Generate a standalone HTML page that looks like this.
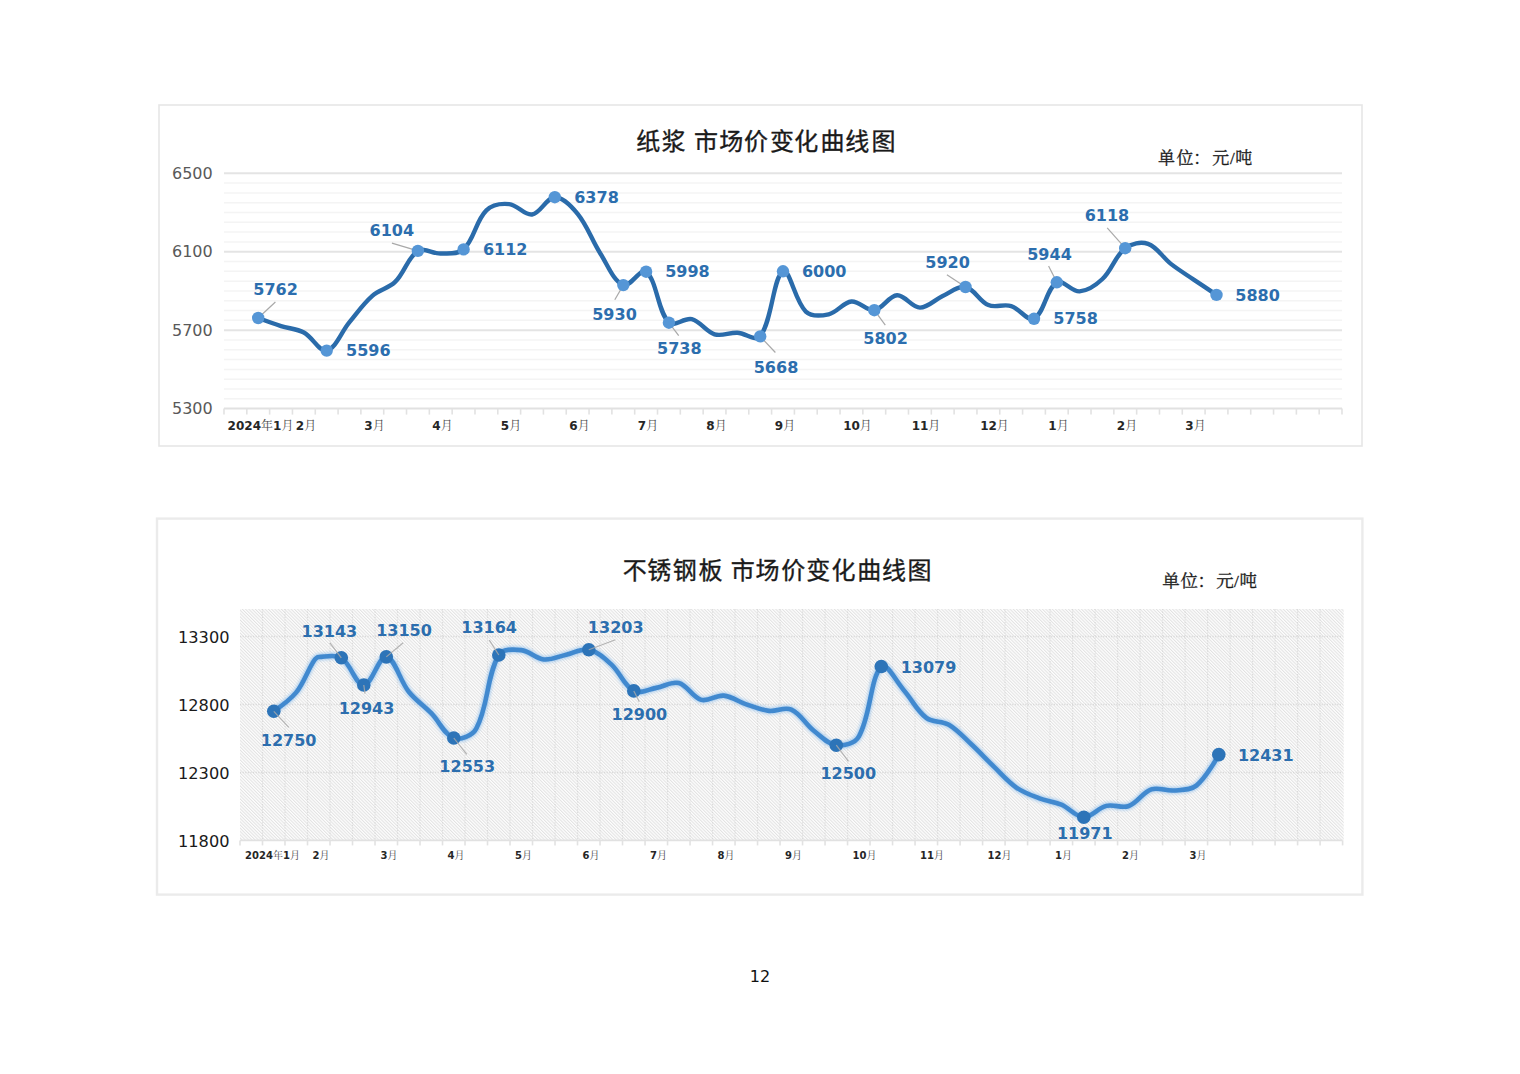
<!DOCTYPE html>
<html lang="zh-CN">
<head>
<meta charset="utf-8">
<title>市场价变化曲线图</title>
<style>
html,body{margin:0;padding:0;background:#fff;}
body{width:1520px;height:1074px;position:relative;overflow:hidden;}
svg text{white-space:pre;}
.dl{font-family:"DejaVu Sans","Liberation Sans",sans-serif;font-weight:bold;font-size:16px;fill:#2c6eae;}
.xl{font-family:"DejaVu Sans","Liberation Sans","Noto Serif CJK SC",serif;font-weight:bold;font-size:12px;fill:#262626;}
.xl2{font-family:"DejaVu Sans","Liberation Sans","Noto Serif CJK SC",serif;font-weight:bold;font-size:10px;fill:#262626;}
.cj{font-weight:normal;fill:#4a4a4a;}
.tt{font-family:"Liberation Sans","Noto Sans CJK SC",sans-serif;font-size:24px;fill:#1a1a1a;stroke:#1a1a1a;stroke-width:0.35px;}
.un{font-family:"Liberation Serif","Noto Serif CJK SC",serif;font-size:17px;fill:#1a1a1a;stroke:#1a1a1a;stroke-width:0.3px;}
</style>
</head>
<body>
<svg width="1520" height="1074" viewBox="0 0 1520 1074" style="position:absolute;left:0;top:0">
<defs>
<pattern id="hatch" width="2.3" height="2.3" patternUnits="userSpaceOnUse" patternTransform="rotate(-45)"><rect width="2.3" height="2.3" fill="#fdfdfd"/><rect width="1.0" height="2.3" fill="#e2e2e2"/></pattern>
<filter id="glow" x="-5%" y="-20%" width="110%" height="140%"><feGaussianBlur stdDeviation="1.6"/></filter>
</defs>
<rect x="159" y="105" width="1203" height="341" fill="#fff" stroke="#e6e6e6" stroke-width="1.6"/>
<line x1="224.0" y1="398.80" x2="1342.0" y2="398.80" stroke="#f4f4f4" stroke-width="1.5"/>
<line x1="224.0" y1="388.99" x2="1342.0" y2="388.99" stroke="#f4f4f4" stroke-width="1.5"/>
<line x1="224.0" y1="379.19" x2="1342.0" y2="379.19" stroke="#f4f4f4" stroke-width="1.5"/>
<line x1="224.0" y1="369.38" x2="1342.0" y2="369.38" stroke="#f4f4f4" stroke-width="1.5"/>
<line x1="224.0" y1="359.58" x2="1342.0" y2="359.58" stroke="#f4f4f4" stroke-width="1.5"/>
<line x1="224.0" y1="349.77" x2="1342.0" y2="349.77" stroke="#f4f4f4" stroke-width="1.5"/>
<line x1="224.0" y1="339.97" x2="1342.0" y2="339.97" stroke="#f4f4f4" stroke-width="1.5"/>
<line x1="224.0" y1="320.36" x2="1342.0" y2="320.36" stroke="#f4f4f4" stroke-width="1.5"/>
<line x1="224.0" y1="310.56" x2="1342.0" y2="310.56" stroke="#f4f4f4" stroke-width="1.5"/>
<line x1="224.0" y1="300.75" x2="1342.0" y2="300.75" stroke="#f4f4f4" stroke-width="1.5"/>
<line x1="224.0" y1="290.95" x2="1342.0" y2="290.95" stroke="#f4f4f4" stroke-width="1.5"/>
<line x1="224.0" y1="281.15" x2="1342.0" y2="281.15" stroke="#f4f4f4" stroke-width="1.5"/>
<line x1="224.0" y1="271.34" x2="1342.0" y2="271.34" stroke="#f4f4f4" stroke-width="1.5"/>
<line x1="224.0" y1="261.54" x2="1342.0" y2="261.54" stroke="#f4f4f4" stroke-width="1.5"/>
<line x1="224.0" y1="241.93" x2="1342.0" y2="241.93" stroke="#f4f4f4" stroke-width="1.5"/>
<line x1="224.0" y1="232.12" x2="1342.0" y2="232.12" stroke="#f4f4f4" stroke-width="1.5"/>
<line x1="224.0" y1="222.32" x2="1342.0" y2="222.32" stroke="#f4f4f4" stroke-width="1.5"/>
<line x1="224.0" y1="212.52" x2="1342.0" y2="212.52" stroke="#f4f4f4" stroke-width="1.5"/>
<line x1="224.0" y1="202.71" x2="1342.0" y2="202.71" stroke="#f4f4f4" stroke-width="1.5"/>
<line x1="224.0" y1="192.91" x2="1342.0" y2="192.91" stroke="#f4f4f4" stroke-width="1.5"/>
<line x1="224.0" y1="183.10" x2="1342.0" y2="183.10" stroke="#f4f4f4" stroke-width="1.5"/>
<line x1="224.0" y1="330.17" x2="1342.0" y2="330.17" stroke="#e4e4e4" stroke-width="2"/>
<line x1="224.0" y1="251.73" x2="1342.0" y2="251.73" stroke="#e4e4e4" stroke-width="2"/>
<line x1="224.0" y1="173.30" x2="1342.0" y2="173.30" stroke="#e4e4e4" stroke-width="2"/>
<line x1="224.0" y1="408.60" x2="1342.0" y2="408.60" stroke="#e1e1e1" stroke-width="2"/>
<line x1="224.00" y1="408.60" x2="224.00" y2="414.60" stroke="#e2e2e2" stroke-width="1.6"/>
<line x1="246.82" y1="408.60" x2="246.82" y2="414.60" stroke="#e2e2e2" stroke-width="1.6"/>
<line x1="269.63" y1="408.60" x2="269.63" y2="414.60" stroke="#e2e2e2" stroke-width="1.6"/>
<line x1="292.45" y1="408.60" x2="292.45" y2="414.60" stroke="#e2e2e2" stroke-width="1.6"/>
<line x1="315.27" y1="408.60" x2="315.27" y2="414.60" stroke="#e2e2e2" stroke-width="1.6"/>
<line x1="338.08" y1="408.60" x2="338.08" y2="414.60" stroke="#e2e2e2" stroke-width="1.6"/>
<line x1="360.90" y1="408.60" x2="360.90" y2="414.60" stroke="#e2e2e2" stroke-width="1.6"/>
<line x1="383.71" y1="408.60" x2="383.71" y2="414.60" stroke="#e2e2e2" stroke-width="1.6"/>
<line x1="406.53" y1="408.60" x2="406.53" y2="414.60" stroke="#e2e2e2" stroke-width="1.6"/>
<line x1="429.35" y1="408.60" x2="429.35" y2="414.60" stroke="#e2e2e2" stroke-width="1.6"/>
<line x1="452.16" y1="408.60" x2="452.16" y2="414.60" stroke="#e2e2e2" stroke-width="1.6"/>
<line x1="474.98" y1="408.60" x2="474.98" y2="414.60" stroke="#e2e2e2" stroke-width="1.6"/>
<line x1="497.80" y1="408.60" x2="497.80" y2="414.60" stroke="#e2e2e2" stroke-width="1.6"/>
<line x1="520.61" y1="408.60" x2="520.61" y2="414.60" stroke="#e2e2e2" stroke-width="1.6"/>
<line x1="543.43" y1="408.60" x2="543.43" y2="414.60" stroke="#e2e2e2" stroke-width="1.6"/>
<line x1="566.24" y1="408.60" x2="566.24" y2="414.60" stroke="#e2e2e2" stroke-width="1.6"/>
<line x1="589.06" y1="408.60" x2="589.06" y2="414.60" stroke="#e2e2e2" stroke-width="1.6"/>
<line x1="611.88" y1="408.60" x2="611.88" y2="414.60" stroke="#e2e2e2" stroke-width="1.6"/>
<line x1="634.69" y1="408.60" x2="634.69" y2="414.60" stroke="#e2e2e2" stroke-width="1.6"/>
<line x1="657.51" y1="408.60" x2="657.51" y2="414.60" stroke="#e2e2e2" stroke-width="1.6"/>
<line x1="680.33" y1="408.60" x2="680.33" y2="414.60" stroke="#e2e2e2" stroke-width="1.6"/>
<line x1="703.14" y1="408.60" x2="703.14" y2="414.60" stroke="#e2e2e2" stroke-width="1.6"/>
<line x1="725.96" y1="408.60" x2="725.96" y2="414.60" stroke="#e2e2e2" stroke-width="1.6"/>
<line x1="748.78" y1="408.60" x2="748.78" y2="414.60" stroke="#e2e2e2" stroke-width="1.6"/>
<line x1="771.59" y1="408.60" x2="771.59" y2="414.60" stroke="#e2e2e2" stroke-width="1.6"/>
<line x1="794.41" y1="408.60" x2="794.41" y2="414.60" stroke="#e2e2e2" stroke-width="1.6"/>
<line x1="817.22" y1="408.60" x2="817.22" y2="414.60" stroke="#e2e2e2" stroke-width="1.6"/>
<line x1="840.04" y1="408.60" x2="840.04" y2="414.60" stroke="#e2e2e2" stroke-width="1.6"/>
<line x1="862.86" y1="408.60" x2="862.86" y2="414.60" stroke="#e2e2e2" stroke-width="1.6"/>
<line x1="885.67" y1="408.60" x2="885.67" y2="414.60" stroke="#e2e2e2" stroke-width="1.6"/>
<line x1="908.49" y1="408.60" x2="908.49" y2="414.60" stroke="#e2e2e2" stroke-width="1.6"/>
<line x1="931.31" y1="408.60" x2="931.31" y2="414.60" stroke="#e2e2e2" stroke-width="1.6"/>
<line x1="954.12" y1="408.60" x2="954.12" y2="414.60" stroke="#e2e2e2" stroke-width="1.6"/>
<line x1="976.94" y1="408.60" x2="976.94" y2="414.60" stroke="#e2e2e2" stroke-width="1.6"/>
<line x1="999.76" y1="408.60" x2="999.76" y2="414.60" stroke="#e2e2e2" stroke-width="1.6"/>
<line x1="1022.57" y1="408.60" x2="1022.57" y2="414.60" stroke="#e2e2e2" stroke-width="1.6"/>
<line x1="1045.39" y1="408.60" x2="1045.39" y2="414.60" stroke="#e2e2e2" stroke-width="1.6"/>
<line x1="1068.20" y1="408.60" x2="1068.20" y2="414.60" stroke="#e2e2e2" stroke-width="1.6"/>
<line x1="1091.02" y1="408.60" x2="1091.02" y2="414.60" stroke="#e2e2e2" stroke-width="1.6"/>
<line x1="1113.84" y1="408.60" x2="1113.84" y2="414.60" stroke="#e2e2e2" stroke-width="1.6"/>
<line x1="1136.65" y1="408.60" x2="1136.65" y2="414.60" stroke="#e2e2e2" stroke-width="1.6"/>
<line x1="1159.47" y1="408.60" x2="1159.47" y2="414.60" stroke="#e2e2e2" stroke-width="1.6"/>
<line x1="1182.29" y1="408.60" x2="1182.29" y2="414.60" stroke="#e2e2e2" stroke-width="1.6"/>
<line x1="1205.10" y1="408.60" x2="1205.10" y2="414.60" stroke="#e2e2e2" stroke-width="1.6"/>
<line x1="1227.92" y1="408.60" x2="1227.92" y2="414.60" stroke="#e2e2e2" stroke-width="1.6"/>
<line x1="1250.73" y1="408.60" x2="1250.73" y2="414.60" stroke="#e2e2e2" stroke-width="1.6"/>
<line x1="1273.55" y1="408.60" x2="1273.55" y2="414.60" stroke="#e2e2e2" stroke-width="1.6"/>
<line x1="1296.37" y1="408.60" x2="1296.37" y2="414.60" stroke="#e2e2e2" stroke-width="1.6"/>
<line x1="1319.18" y1="408.60" x2="1319.18" y2="414.60" stroke="#e2e2e2" stroke-width="1.6"/>
<line x1="1342.00" y1="408.60" x2="1342.00" y2="414.60" stroke="#e2e2e2" stroke-width="1.6"/>
<text x="172" y="178.8" font-family="'DejaVu Sans','Liberation Sans',sans-serif" font-size="16" fill="#595959">6500</text>
<text x="172" y="257.2" font-family="'DejaVu Sans','Liberation Sans',sans-serif" font-size="16" fill="#595959">6100</text>
<text x="172" y="335.7" font-family="'DejaVu Sans','Liberation Sans',sans-serif" font-size="16" fill="#595959">5700</text>
<text x="172" y="414.1" font-family="'DejaVu Sans','Liberation Sans',sans-serif" font-size="16" fill="#595959">5300</text>
<text x="260.5" y="429.5" text-anchor="middle" class="xl">2024<tspan class="cj">年</tspan>1<tspan class="cj">月</tspan></text>
<text x="306.0" y="429.5" text-anchor="middle" class="xl">2<tspan class="cj">月</tspan></text>
<text x="374.5" y="429.5" text-anchor="middle" class="xl">3<tspan class="cj">月</tspan></text>
<text x="442.5" y="429.5" text-anchor="middle" class="xl">4<tspan class="cj">月</tspan></text>
<text x="511.0" y="429.5" text-anchor="middle" class="xl">5<tspan class="cj">月</tspan></text>
<text x="579.5" y="429.5" text-anchor="middle" class="xl">6<tspan class="cj">月</tspan></text>
<text x="648.0" y="429.5" text-anchor="middle" class="xl">7<tspan class="cj">月</tspan></text>
<text x="716.5" y="429.5" text-anchor="middle" class="xl">8<tspan class="cj">月</tspan></text>
<text x="785.0" y="429.5" text-anchor="middle" class="xl">9<tspan class="cj">月</tspan></text>
<text x="857.5" y="429.5" text-anchor="middle" class="xl">10<tspan class="cj">月</tspan></text>
<text x="926.0" y="429.5" text-anchor="middle" class="xl">11<tspan class="cj">月</tspan></text>
<text x="994.5" y="429.5" text-anchor="middle" class="xl">12<tspan class="cj">月</tspan></text>
<text x="1058.5" y="429.5" text-anchor="middle" class="xl">1<tspan class="cj">月</tspan></text>
<text x="1127.0" y="429.5" text-anchor="middle" class="xl">2<tspan class="cj">月</tspan></text>
<text x="1195.5" y="429.5" text-anchor="middle" class="xl">3<tspan class="cj">月</tspan></text>
<line x1="258.2" y1="318.0" x2="275.4" y2="302.0" stroke="#a9a9a9" stroke-width="1.2"/>
<line x1="417.9" y1="250.9" x2="391.9" y2="243.1" stroke="#a9a9a9" stroke-width="1.2"/>
<line x1="623.3" y1="285.1" x2="614.8" y2="299.8" stroke="#a9a9a9" stroke-width="1.2"/>
<line x1="668.9" y1="322.7" x2="678.7" y2="335.6" stroke="#a9a9a9" stroke-width="1.2"/>
<line x1="760.2" y1="336.4" x2="775.4" y2="352.5" stroke="#a9a9a9" stroke-width="1.2"/>
<line x1="874.3" y1="310.2" x2="885.3" y2="325.1" stroke="#a9a9a9" stroke-width="1.2"/>
<line x1="965.5" y1="287.0" x2="946.9" y2="274.8" stroke="#a9a9a9" stroke-width="1.2"/>
<line x1="1056.8" y1="282.3" x2="1048.6" y2="266.0" stroke="#a9a9a9" stroke-width="1.2"/>
<line x1="1125.2" y1="248.2" x2="1107.2" y2="227.9" stroke="#a9a9a9" stroke-width="1.2"/>
<path d="M258.22,318.01 C258.22,318.01 272.75,323.41 281.04,326.05 C289.17,328.63 296.48,328.56 303.86,332.52 C312.91,337.38 319.38,352.22 326.67,350.56 C335.81,348.48 341.09,332.20 349.49,322.13 C357.51,312.51 363.01,304.04 372.31,295.85 C379.44,289.57 388.39,288.56 395.12,281.93 C404.82,272.39 407.65,257.36 417.94,250.95 C424.08,247.12 432.58,253.78 440.76,253.50 C449.01,253.21 458.00,254.65 463.57,249.38 C474.43,239.12 475.60,221.06 486.39,210.36 C492.03,204.76 501.23,203.37 509.20,204.09 C517.66,204.85 524.35,215.63 532.02,214.48 C540.78,213.16 546.57,197.33 554.84,197.22 C563.00,197.12 571.39,206.14 577.65,213.89 C587.82,226.47 591.57,239.81 600.47,253.69 C608.00,265.43 613.51,281.20 623.29,285.07 C629.94,287.70 640.83,267.38 646.10,271.73 C657.25,280.93 657.30,310.63 668.92,322.72 C673.72,327.71 684.22,317.28 691.73,319.19 C700.64,321.44 705.60,331.63 714.55,334.28 C722.03,336.50 729.20,332.33 737.37,332.72 C745.63,333.11 756.06,341.99 760.18,336.44 C772.49,319.89 773.16,276.71 783.00,271.34 C789.59,267.74 794.84,301.21 805.82,311.54 C811.27,316.67 820.95,315.97 828.63,314.28 C837.37,312.37 842.95,302.31 851.45,301.54 C859.38,300.82 866.51,311.23 874.27,310.17 C882.93,308.97 888.67,295.73 897.08,295.26 C905.09,294.82 911.63,307.47 919.90,307.62 C928.05,307.76 934.33,299.83 942.71,296.05 C950.76,292.42 958.01,285.54 965.53,287.03 C974.44,288.79 979.14,301.23 988.35,305.07 C995.57,308.08 1003.50,303.74 1011.16,306.05 C1019.93,308.69 1027.77,322.02 1033.98,318.79 C1044.20,313.48 1046.33,288.62 1056.80,282.32 C1062.76,278.73 1071.63,291.93 1079.61,291.34 C1088.06,290.73 1095.80,285.26 1102.43,278.99 C1112.22,269.73 1115.02,256.07 1125.24,248.20 C1131.44,243.44 1140.94,241.44 1148.06,243.89 C1157.37,247.09 1162.29,257.17 1170.88,263.89 C1178.72,270.02 1185.45,273.98 1193.69,279.58 C1201.87,285.13 1216.51,294.87 1216.51,294.87" fill="none" stroke="#2a6baa" stroke-width="4.4" stroke-linecap="round" stroke-linejoin="round"/>
<circle cx="258.2" cy="318.0" r="6.2" fill="#5596d6"/>
<circle cx="326.7" cy="350.6" r="6.2" fill="#5596d6"/>
<circle cx="417.9" cy="250.9" r="6.2" fill="#5596d6"/>
<circle cx="463.6" cy="249.4" r="6.2" fill="#5596d6"/>
<circle cx="554.8" cy="197.2" r="6.2" fill="#5596d6"/>
<circle cx="646.1" cy="271.7" r="6.2" fill="#5596d6"/>
<circle cx="623.3" cy="285.1" r="6.2" fill="#5596d6"/>
<circle cx="668.9" cy="322.7" r="6.2" fill="#5596d6"/>
<circle cx="760.2" cy="336.4" r="6.2" fill="#5596d6"/>
<circle cx="783.0" cy="271.3" r="6.2" fill="#5596d6"/>
<circle cx="874.3" cy="310.2" r="6.2" fill="#5596d6"/>
<circle cx="965.5" cy="287.0" r="6.2" fill="#5596d6"/>
<circle cx="1056.8" cy="282.3" r="6.2" fill="#5596d6"/>
<circle cx="1034.0" cy="318.8" r="6.2" fill="#5596d6"/>
<circle cx="1125.2" cy="248.2" r="6.2" fill="#5596d6"/>
<circle cx="1216.5" cy="294.9" r="6.2" fill="#5596d6"/>
<text x="275.6" y="295.4" text-anchor="middle" class="dl">5762</text>
<text x="368.3" y="356.4" text-anchor="middle" class="dl">5596</text>
<text x="391.8" y="236.1" text-anchor="middle" class="dl">6104</text>
<text x="505.2" y="255.3" text-anchor="middle" class="dl">6112</text>
<text x="596.5" y="203.1" text-anchor="middle" class="dl">6378</text>
<text x="687.4" y="277.4" text-anchor="middle" class="dl">5998</text>
<text x="614.5" y="319.5" text-anchor="middle" class="dl">5930</text>
<text x="679.3" y="354.4" text-anchor="middle" class="dl">5738</text>
<text x="776.0" y="372.5" text-anchor="middle" class="dl">5668</text>
<text x="824.2" y="277.4" text-anchor="middle" class="dl">6000</text>
<text x="885.6" y="344.4" text-anchor="middle" class="dl">5802</text>
<text x="947.6" y="268.2" text-anchor="middle" class="dl">5920</text>
<text x="1049.5" y="260.1" text-anchor="middle" class="dl">5944</text>
<text x="1075.6" y="324.3" text-anchor="middle" class="dl">5758</text>
<text x="1106.9" y="221.2" text-anchor="middle" class="dl">6118</text>
<text x="1257.6" y="300.7" text-anchor="middle" class="dl">5880</text>
<text x="636.3 661.5 686 693.9 719.3 743.9 769.9 794.3 820.6 845.2 871.5" y="150" class="tt">纸浆 市场价变化曲线图</text>
<text x="1158 1176.6 1193.2 1212.3 1229.9 1235.2" y="163.5" class="un">单位：元/吨</text>
<rect x="157" y="518.6" width="1205.4" height="376" fill="#fff" stroke="#ebebeb" stroke-width="2.4"/>
<rect x="240.0" y="609.0" width="1103.7" height="231.4" fill="url(#hatch)"/>
<line x1="262.50" y1="609.0" x2="262.50" y2="840.4" stroke="#d2d2d2" stroke-width="1.2" stroke-dasharray="1.2 1.4" opacity="0.7"/>
<line x1="285.00" y1="609.0" x2="285.00" y2="840.4" stroke="#d2d2d2" stroke-width="1.2" stroke-dasharray="1.2 1.4" opacity="0.7"/>
<line x1="307.51" y1="609.0" x2="307.51" y2="840.4" stroke="#d2d2d2" stroke-width="1.2" stroke-dasharray="1.2 1.4" opacity="0.7"/>
<line x1="330.01" y1="609.0" x2="330.01" y2="840.4" stroke="#d2d2d2" stroke-width="1.2" stroke-dasharray="1.2 1.4" opacity="0.7"/>
<line x1="352.51" y1="609.0" x2="352.51" y2="840.4" stroke="#d2d2d2" stroke-width="1.2" stroke-dasharray="1.2 1.4" opacity="0.7"/>
<line x1="375.01" y1="609.0" x2="375.01" y2="840.4" stroke="#d2d2d2" stroke-width="1.2" stroke-dasharray="1.2 1.4" opacity="0.7"/>
<line x1="397.51" y1="609.0" x2="397.51" y2="840.4" stroke="#d2d2d2" stroke-width="1.2" stroke-dasharray="1.2 1.4" opacity="0.7"/>
<line x1="420.02" y1="609.0" x2="420.02" y2="840.4" stroke="#d2d2d2" stroke-width="1.2" stroke-dasharray="1.2 1.4" opacity="0.7"/>
<line x1="442.52" y1="609.0" x2="442.52" y2="840.4" stroke="#d2d2d2" stroke-width="1.2" stroke-dasharray="1.2 1.4" opacity="0.7"/>
<line x1="465.02" y1="609.0" x2="465.02" y2="840.4" stroke="#d2d2d2" stroke-width="1.2" stroke-dasharray="1.2 1.4" opacity="0.7"/>
<line x1="487.52" y1="609.0" x2="487.52" y2="840.4" stroke="#d2d2d2" stroke-width="1.2" stroke-dasharray="1.2 1.4" opacity="0.7"/>
<line x1="510.02" y1="609.0" x2="510.02" y2="840.4" stroke="#d2d2d2" stroke-width="1.2" stroke-dasharray="1.2 1.4" opacity="0.7"/>
<line x1="532.53" y1="609.0" x2="532.53" y2="840.4" stroke="#d2d2d2" stroke-width="1.2" stroke-dasharray="1.2 1.4" opacity="0.7"/>
<line x1="555.03" y1="609.0" x2="555.03" y2="840.4" stroke="#d2d2d2" stroke-width="1.2" stroke-dasharray="1.2 1.4" opacity="0.7"/>
<line x1="577.53" y1="609.0" x2="577.53" y2="840.4" stroke="#d2d2d2" stroke-width="1.2" stroke-dasharray="1.2 1.4" opacity="0.7"/>
<line x1="600.03" y1="609.0" x2="600.03" y2="840.4" stroke="#d2d2d2" stroke-width="1.2" stroke-dasharray="1.2 1.4" opacity="0.7"/>
<line x1="622.53" y1="609.0" x2="622.53" y2="840.4" stroke="#d2d2d2" stroke-width="1.2" stroke-dasharray="1.2 1.4" opacity="0.7"/>
<line x1="645.04" y1="609.0" x2="645.04" y2="840.4" stroke="#d2d2d2" stroke-width="1.2" stroke-dasharray="1.2 1.4" opacity="0.7"/>
<line x1="667.54" y1="609.0" x2="667.54" y2="840.4" stroke="#d2d2d2" stroke-width="1.2" stroke-dasharray="1.2 1.4" opacity="0.7"/>
<line x1="690.04" y1="609.0" x2="690.04" y2="840.4" stroke="#d2d2d2" stroke-width="1.2" stroke-dasharray="1.2 1.4" opacity="0.7"/>
<line x1="712.54" y1="609.0" x2="712.54" y2="840.4" stroke="#d2d2d2" stroke-width="1.2" stroke-dasharray="1.2 1.4" opacity="0.7"/>
<line x1="735.04" y1="609.0" x2="735.04" y2="840.4" stroke="#d2d2d2" stroke-width="1.2" stroke-dasharray="1.2 1.4" opacity="0.7"/>
<line x1="757.55" y1="609.0" x2="757.55" y2="840.4" stroke="#d2d2d2" stroke-width="1.2" stroke-dasharray="1.2 1.4" opacity="0.7"/>
<line x1="780.05" y1="609.0" x2="780.05" y2="840.4" stroke="#d2d2d2" stroke-width="1.2" stroke-dasharray="1.2 1.4" opacity="0.7"/>
<line x1="802.55" y1="609.0" x2="802.55" y2="840.4" stroke="#d2d2d2" stroke-width="1.2" stroke-dasharray="1.2 1.4" opacity="0.7"/>
<line x1="825.05" y1="609.0" x2="825.05" y2="840.4" stroke="#d2d2d2" stroke-width="1.2" stroke-dasharray="1.2 1.4" opacity="0.7"/>
<line x1="847.56" y1="609.0" x2="847.56" y2="840.4" stroke="#d2d2d2" stroke-width="1.2" stroke-dasharray="1.2 1.4" opacity="0.7"/>
<line x1="870.06" y1="609.0" x2="870.06" y2="840.4" stroke="#d2d2d2" stroke-width="1.2" stroke-dasharray="1.2 1.4" opacity="0.7"/>
<line x1="892.56" y1="609.0" x2="892.56" y2="840.4" stroke="#d2d2d2" stroke-width="1.2" stroke-dasharray="1.2 1.4" opacity="0.7"/>
<line x1="915.06" y1="609.0" x2="915.06" y2="840.4" stroke="#d2d2d2" stroke-width="1.2" stroke-dasharray="1.2 1.4" opacity="0.7"/>
<line x1="937.56" y1="609.0" x2="937.56" y2="840.4" stroke="#d2d2d2" stroke-width="1.2" stroke-dasharray="1.2 1.4" opacity="0.7"/>
<line x1="960.07" y1="609.0" x2="960.07" y2="840.4" stroke="#d2d2d2" stroke-width="1.2" stroke-dasharray="1.2 1.4" opacity="0.7"/>
<line x1="982.57" y1="609.0" x2="982.57" y2="840.4" stroke="#d2d2d2" stroke-width="1.2" stroke-dasharray="1.2 1.4" opacity="0.7"/>
<line x1="1005.07" y1="609.0" x2="1005.07" y2="840.4" stroke="#d2d2d2" stroke-width="1.2" stroke-dasharray="1.2 1.4" opacity="0.7"/>
<line x1="1027.57" y1="609.0" x2="1027.57" y2="840.4" stroke="#d2d2d2" stroke-width="1.2" stroke-dasharray="1.2 1.4" opacity="0.7"/>
<line x1="1050.07" y1="609.0" x2="1050.07" y2="840.4" stroke="#d2d2d2" stroke-width="1.2" stroke-dasharray="1.2 1.4" opacity="0.7"/>
<line x1="1072.58" y1="609.0" x2="1072.58" y2="840.4" stroke="#d2d2d2" stroke-width="1.2" stroke-dasharray="1.2 1.4" opacity="0.7"/>
<line x1="1095.08" y1="609.0" x2="1095.08" y2="840.4" stroke="#d2d2d2" stroke-width="1.2" stroke-dasharray="1.2 1.4" opacity="0.7"/>
<line x1="1117.58" y1="609.0" x2="1117.58" y2="840.4" stroke="#d2d2d2" stroke-width="1.2" stroke-dasharray="1.2 1.4" opacity="0.7"/>
<line x1="1140.08" y1="609.0" x2="1140.08" y2="840.4" stroke="#d2d2d2" stroke-width="1.2" stroke-dasharray="1.2 1.4" opacity="0.7"/>
<line x1="1162.58" y1="609.0" x2="1162.58" y2="840.4" stroke="#d2d2d2" stroke-width="1.2" stroke-dasharray="1.2 1.4" opacity="0.7"/>
<line x1="1185.09" y1="609.0" x2="1185.09" y2="840.4" stroke="#d2d2d2" stroke-width="1.2" stroke-dasharray="1.2 1.4" opacity="0.7"/>
<line x1="1207.59" y1="609.0" x2="1207.59" y2="840.4" stroke="#d2d2d2" stroke-width="1.2" stroke-dasharray="1.2 1.4" opacity="0.7"/>
<line x1="1230.09" y1="609.0" x2="1230.09" y2="840.4" stroke="#d2d2d2" stroke-width="1.2" stroke-dasharray="1.2 1.4" opacity="0.7"/>
<line x1="1252.59" y1="609.0" x2="1252.59" y2="840.4" stroke="#d2d2d2" stroke-width="1.2" stroke-dasharray="1.2 1.4" opacity="0.7"/>
<line x1="1275.09" y1="609.0" x2="1275.09" y2="840.4" stroke="#d2d2d2" stroke-width="1.2" stroke-dasharray="1.2 1.4" opacity="0.7"/>
<line x1="1297.60" y1="609.0" x2="1297.60" y2="840.4" stroke="#d2d2d2" stroke-width="1.2" stroke-dasharray="1.2 1.4" opacity="0.7"/>
<line x1="1320.10" y1="609.0" x2="1320.10" y2="840.4" stroke="#d2d2d2" stroke-width="1.2" stroke-dasharray="1.2 1.4" opacity="0.7"/>
<line x1="240.0" y1="772.43" x2="1342.6" y2="772.43" stroke="#d2d2d2" stroke-width="1.4" stroke-dasharray="1.2 1.4" opacity="0.75"/>
<line x1="240.0" y1="704.47" x2="1342.6" y2="704.47" stroke="#d2d2d2" stroke-width="1.4" stroke-dasharray="1.2 1.4" opacity="0.75"/>
<line x1="240.0" y1="636.50" x2="1342.6" y2="636.50" stroke="#d2d2d2" stroke-width="1.4" stroke-dasharray="1.2 1.4" opacity="0.75"/>
<line x1="240.0" y1="840.40" x2="1342.6" y2="840.40" stroke="#e1e1e1" stroke-width="1.8"/>
<line x1="240.00" y1="840.40" x2="240.00" y2="845.40" stroke="#e2e2e2" stroke-width="1.6"/>
<line x1="262.50" y1="840.40" x2="262.50" y2="845.40" stroke="#e2e2e2" stroke-width="1.6"/>
<line x1="285.00" y1="840.40" x2="285.00" y2="845.40" stroke="#e2e2e2" stroke-width="1.6"/>
<line x1="307.51" y1="840.40" x2="307.51" y2="845.40" stroke="#e2e2e2" stroke-width="1.6"/>
<line x1="330.01" y1="840.40" x2="330.01" y2="845.40" stroke="#e2e2e2" stroke-width="1.6"/>
<line x1="352.51" y1="840.40" x2="352.51" y2="845.40" stroke="#e2e2e2" stroke-width="1.6"/>
<line x1="375.01" y1="840.40" x2="375.01" y2="845.40" stroke="#e2e2e2" stroke-width="1.6"/>
<line x1="397.51" y1="840.40" x2="397.51" y2="845.40" stroke="#e2e2e2" stroke-width="1.6"/>
<line x1="420.02" y1="840.40" x2="420.02" y2="845.40" stroke="#e2e2e2" stroke-width="1.6"/>
<line x1="442.52" y1="840.40" x2="442.52" y2="845.40" stroke="#e2e2e2" stroke-width="1.6"/>
<line x1="465.02" y1="840.40" x2="465.02" y2="845.40" stroke="#e2e2e2" stroke-width="1.6"/>
<line x1="487.52" y1="840.40" x2="487.52" y2="845.40" stroke="#e2e2e2" stroke-width="1.6"/>
<line x1="510.02" y1="840.40" x2="510.02" y2="845.40" stroke="#e2e2e2" stroke-width="1.6"/>
<line x1="532.53" y1="840.40" x2="532.53" y2="845.40" stroke="#e2e2e2" stroke-width="1.6"/>
<line x1="555.03" y1="840.40" x2="555.03" y2="845.40" stroke="#e2e2e2" stroke-width="1.6"/>
<line x1="577.53" y1="840.40" x2="577.53" y2="845.40" stroke="#e2e2e2" stroke-width="1.6"/>
<line x1="600.03" y1="840.40" x2="600.03" y2="845.40" stroke="#e2e2e2" stroke-width="1.6"/>
<line x1="622.53" y1="840.40" x2="622.53" y2="845.40" stroke="#e2e2e2" stroke-width="1.6"/>
<line x1="645.04" y1="840.40" x2="645.04" y2="845.40" stroke="#e2e2e2" stroke-width="1.6"/>
<line x1="667.54" y1="840.40" x2="667.54" y2="845.40" stroke="#e2e2e2" stroke-width="1.6"/>
<line x1="690.04" y1="840.40" x2="690.04" y2="845.40" stroke="#e2e2e2" stroke-width="1.6"/>
<line x1="712.54" y1="840.40" x2="712.54" y2="845.40" stroke="#e2e2e2" stroke-width="1.6"/>
<line x1="735.04" y1="840.40" x2="735.04" y2="845.40" stroke="#e2e2e2" stroke-width="1.6"/>
<line x1="757.55" y1="840.40" x2="757.55" y2="845.40" stroke="#e2e2e2" stroke-width="1.6"/>
<line x1="780.05" y1="840.40" x2="780.05" y2="845.40" stroke="#e2e2e2" stroke-width="1.6"/>
<line x1="802.55" y1="840.40" x2="802.55" y2="845.40" stroke="#e2e2e2" stroke-width="1.6"/>
<line x1="825.05" y1="840.40" x2="825.05" y2="845.40" stroke="#e2e2e2" stroke-width="1.6"/>
<line x1="847.56" y1="840.40" x2="847.56" y2="845.40" stroke="#e2e2e2" stroke-width="1.6"/>
<line x1="870.06" y1="840.40" x2="870.06" y2="845.40" stroke="#e2e2e2" stroke-width="1.6"/>
<line x1="892.56" y1="840.40" x2="892.56" y2="845.40" stroke="#e2e2e2" stroke-width="1.6"/>
<line x1="915.06" y1="840.40" x2="915.06" y2="845.40" stroke="#e2e2e2" stroke-width="1.6"/>
<line x1="937.56" y1="840.40" x2="937.56" y2="845.40" stroke="#e2e2e2" stroke-width="1.6"/>
<line x1="960.07" y1="840.40" x2="960.07" y2="845.40" stroke="#e2e2e2" stroke-width="1.6"/>
<line x1="982.57" y1="840.40" x2="982.57" y2="845.40" stroke="#e2e2e2" stroke-width="1.6"/>
<line x1="1005.07" y1="840.40" x2="1005.07" y2="845.40" stroke="#e2e2e2" stroke-width="1.6"/>
<line x1="1027.57" y1="840.40" x2="1027.57" y2="845.40" stroke="#e2e2e2" stroke-width="1.6"/>
<line x1="1050.07" y1="840.40" x2="1050.07" y2="845.40" stroke="#e2e2e2" stroke-width="1.6"/>
<line x1="1072.58" y1="840.40" x2="1072.58" y2="845.40" stroke="#e2e2e2" stroke-width="1.6"/>
<line x1="1095.08" y1="840.40" x2="1095.08" y2="845.40" stroke="#e2e2e2" stroke-width="1.6"/>
<line x1="1117.58" y1="840.40" x2="1117.58" y2="845.40" stroke="#e2e2e2" stroke-width="1.6"/>
<line x1="1140.08" y1="840.40" x2="1140.08" y2="845.40" stroke="#e2e2e2" stroke-width="1.6"/>
<line x1="1162.58" y1="840.40" x2="1162.58" y2="845.40" stroke="#e2e2e2" stroke-width="1.6"/>
<line x1="1185.09" y1="840.40" x2="1185.09" y2="845.40" stroke="#e2e2e2" stroke-width="1.6"/>
<line x1="1207.59" y1="840.40" x2="1207.59" y2="845.40" stroke="#e2e2e2" stroke-width="1.6"/>
<line x1="1230.09" y1="840.40" x2="1230.09" y2="845.40" stroke="#e2e2e2" stroke-width="1.6"/>
<line x1="1252.59" y1="840.40" x2="1252.59" y2="845.40" stroke="#e2e2e2" stroke-width="1.6"/>
<line x1="1275.09" y1="840.40" x2="1275.09" y2="845.40" stroke="#e2e2e2" stroke-width="1.6"/>
<line x1="1297.60" y1="840.40" x2="1297.60" y2="845.40" stroke="#e2e2e2" stroke-width="1.6"/>
<line x1="1320.10" y1="840.40" x2="1320.10" y2="845.40" stroke="#e2e2e2" stroke-width="1.6"/>
<line x1="1342.60" y1="840.40" x2="1342.60" y2="845.40" stroke="#e2e2e2" stroke-width="1.6"/>
<text x="178" y="642.7" font-family="'DejaVu Sans','Liberation Sans',sans-serif" font-size="16.2" fill="#1a1a1a">13300</text>
<text x="178" y="710.7" font-family="'DejaVu Sans','Liberation Sans',sans-serif" font-size="16.2" fill="#1a1a1a">12800</text>
<text x="178" y="778.6" font-family="'DejaVu Sans','Liberation Sans',sans-serif" font-size="16.2" fill="#1a1a1a">12300</text>
<text x="178" y="846.6" font-family="'DejaVu Sans','Liberation Sans',sans-serif" font-size="16.2" fill="#1a1a1a">11800</text>
<text x="272.5" y="859" text-anchor="middle" class="xl2">2024<tspan class="cj">年</tspan>1<tspan class="cj">月</tspan></text>
<text x="321.0" y="859" text-anchor="middle" class="xl2">2<tspan class="cj">月</tspan></text>
<text x="389.0" y="859" text-anchor="middle" class="xl2">3<tspan class="cj">月</tspan></text>
<text x="456.0" y="859" text-anchor="middle" class="xl2">4<tspan class="cj">月</tspan></text>
<text x="523.5" y="859" text-anchor="middle" class="xl2">5<tspan class="cj">月</tspan></text>
<text x="591.0" y="859" text-anchor="middle" class="xl2">6<tspan class="cj">月</tspan></text>
<text x="658.5" y="859" text-anchor="middle" class="xl2">7<tspan class="cj">月</tspan></text>
<text x="726.0" y="859" text-anchor="middle" class="xl2">8<tspan class="cj">月</tspan></text>
<text x="793.5" y="859" text-anchor="middle" class="xl2">9<tspan class="cj">月</tspan></text>
<text x="864.5" y="859" text-anchor="middle" class="xl2">10<tspan class="cj">月</tspan></text>
<text x="932.0" y="859" text-anchor="middle" class="xl2">11<tspan class="cj">月</tspan></text>
<text x="999.5" y="859" text-anchor="middle" class="xl2">12<tspan class="cj">月</tspan></text>
<text x="1063.5" y="859" text-anchor="middle" class="xl2">1<tspan class="cj">月</tspan></text>
<text x="1130.5" y="859" text-anchor="middle" class="xl2">2<tspan class="cj">月</tspan></text>
<text x="1198.0" y="859" text-anchor="middle" class="xl2">3<tspan class="cj">月</tspan></text>
<path d="M273.75,711.26 C273.75,711.26 289.58,700.42 296.26,692.37 C305.78,680.89 312.22,657.03 318.76,657.03 C324.42,657.03 334.95,653.91 341.26,657.84 C351.15,664.00 355.74,685.20 363.76,685.03 C371.95,684.86 378.73,655.77 386.26,656.89 C394.93,658.17 399.51,680.12 408.77,691.69 C415.71,700.38 423.47,705.14 431.27,713.17 C439.67,721.82 444.39,734.81 453.77,738.04 C460.59,740.39 472.38,735.85 476.27,728.66 C488.58,705.95 486.30,676.76 498.77,654.99 C502.50,648.48 513.41,649.31 521.28,650.09 C529.61,650.92 535.44,658.62 543.78,659.47 C551.64,660.28 558.19,656.47 566.28,654.72 C574.39,652.95 581.30,648.08 588.78,649.69 C597.50,651.56 604.22,657.90 611.28,664.37 C620.42,672.73 623.98,685.75 633.79,690.87 C640.19,694.22 648.25,689.29 656.29,687.88 C664.45,686.45 671.49,681.05 678.79,682.99 C687.70,685.36 692.36,697.34 701.29,699.84 C708.56,701.89 715.91,694.84 723.79,695.63 C732.11,696.46 738.08,701.55 746.30,704.33 C754.28,707.03 760.54,709.88 768.80,710.86 C776.74,711.79 784.46,706.61 791.30,709.63 C800.66,713.76 805.13,723.84 813.80,730.70 C821.34,736.66 827.78,744.14 836.30,745.25 C843.98,746.24 854.80,743.55 858.81,736.55 C871.01,715.21 870.09,678.10 881.31,666.54 C886.29,661.41 896.07,681.36 903.81,690.19 C912.27,699.86 916.54,710.43 926.31,717.92 C932.74,722.86 941.67,720.54 948.81,724.72 C957.87,730.03 963.46,736.99 971.32,744.30 C979.66,752.06 985.60,758.69 993.82,766.59 C1001.80,774.25 1007.37,781.25 1016.32,787.52 C1023.57,792.60 1030.48,794.95 1038.82,798.12 C1046.68,801.12 1053.61,801.39 1061.32,804.65 C1069.81,808.24 1075.63,816.93 1083.83,817.16 C1091.84,817.37 1097.77,807.99 1106.33,805.87 C1113.98,803.98 1121.60,808.65 1128.83,806.01 C1137.81,802.73 1142.36,792.51 1151.33,789.42 C1158.56,786.94 1165.82,791.19 1173.83,790.51 C1182.02,789.82 1190.25,790.47 1196.34,785.62 C1206.45,777.55 1218.84,754.63 1218.84,754.63" fill="none" stroke="#8fc0ee" stroke-width="7" stroke-linecap="round" stroke-linejoin="round" filter="url(#glow)" opacity="0.7"/>
<path d="M273.75,711.26 C273.75,711.26 289.58,700.42 296.26,692.37 C305.78,680.89 312.22,657.03 318.76,657.03 C324.42,657.03 334.95,653.91 341.26,657.84 C351.15,664.00 355.74,685.20 363.76,685.03 C371.95,684.86 378.73,655.77 386.26,656.89 C394.93,658.17 399.51,680.12 408.77,691.69 C415.71,700.38 423.47,705.14 431.27,713.17 C439.67,721.82 444.39,734.81 453.77,738.04 C460.59,740.39 472.38,735.85 476.27,728.66 C488.58,705.95 486.30,676.76 498.77,654.99 C502.50,648.48 513.41,649.31 521.28,650.09 C529.61,650.92 535.44,658.62 543.78,659.47 C551.64,660.28 558.19,656.47 566.28,654.72 C574.39,652.95 581.30,648.08 588.78,649.69 C597.50,651.56 604.22,657.90 611.28,664.37 C620.42,672.73 623.98,685.75 633.79,690.87 C640.19,694.22 648.25,689.29 656.29,687.88 C664.45,686.45 671.49,681.05 678.79,682.99 C687.70,685.36 692.36,697.34 701.29,699.84 C708.56,701.89 715.91,694.84 723.79,695.63 C732.11,696.46 738.08,701.55 746.30,704.33 C754.28,707.03 760.54,709.88 768.80,710.86 C776.74,711.79 784.46,706.61 791.30,709.63 C800.66,713.76 805.13,723.84 813.80,730.70 C821.34,736.66 827.78,744.14 836.30,745.25 C843.98,746.24 854.80,743.55 858.81,736.55 C871.01,715.21 870.09,678.10 881.31,666.54 C886.29,661.41 896.07,681.36 903.81,690.19 C912.27,699.86 916.54,710.43 926.31,717.92 C932.74,722.86 941.67,720.54 948.81,724.72 C957.87,730.03 963.46,736.99 971.32,744.30 C979.66,752.06 985.60,758.69 993.82,766.59 C1001.80,774.25 1007.37,781.25 1016.32,787.52 C1023.57,792.60 1030.48,794.95 1038.82,798.12 C1046.68,801.12 1053.61,801.39 1061.32,804.65 C1069.81,808.24 1075.63,816.93 1083.83,817.16 C1091.84,817.37 1097.77,807.99 1106.33,805.87 C1113.98,803.98 1121.60,808.65 1128.83,806.01 C1137.81,802.73 1142.36,792.51 1151.33,789.42 C1158.56,786.94 1165.82,791.19 1173.83,790.51 C1182.02,789.82 1190.25,790.47 1196.34,785.62 C1206.45,777.55 1218.84,754.63 1218.84,754.63" fill="none" stroke="#4189cf" stroke-width="4.6" stroke-linecap="round" stroke-linejoin="round"/>
<circle cx="273.8" cy="711.3" r="6.8" fill="#2d74b8"/>
<circle cx="341.3" cy="657.8" r="6.8" fill="#2d74b8"/>
<circle cx="386.3" cy="656.9" r="6.8" fill="#2d74b8"/>
<circle cx="363.8" cy="685.0" r="6.8" fill="#2d74b8"/>
<circle cx="498.8" cy="655.0" r="6.8" fill="#2d74b8"/>
<circle cx="453.8" cy="738.0" r="6.8" fill="#2d74b8"/>
<circle cx="588.8" cy="649.7" r="6.8" fill="#2d74b8"/>
<circle cx="633.8" cy="690.9" r="6.8" fill="#2d74b8"/>
<circle cx="881.3" cy="666.5" r="6.8" fill="#2d74b8"/>
<circle cx="836.3" cy="745.2" r="6.8" fill="#2d74b8"/>
<circle cx="1083.8" cy="817.2" r="6.8" fill="#2d74b8"/>
<circle cx="1218.8" cy="754.6" r="6.8" fill="#2d74b8"/>
<line x1="273.8" y1="711.3" x2="288.8" y2="727.4" stroke="#a9a9a9" stroke-width="1.2" opacity="0.85"/>
<line x1="341.3" y1="657.8" x2="329.9" y2="642.8" stroke="#a9a9a9" stroke-width="1.2" opacity="0.85"/>
<line x1="386.3" y1="656.9" x2="403.2" y2="642.8" stroke="#a9a9a9" stroke-width="1.2" opacity="0.85"/>
<line x1="363.8" y1="685.0" x2="365.0" y2="693.6" stroke="#a9a9a9" stroke-width="1.2" opacity="0.85"/>
<line x1="498.8" y1="655.0" x2="489.3" y2="640.1" stroke="#a9a9a9" stroke-width="1.2" opacity="0.85"/>
<line x1="453.8" y1="738.0" x2="466.8" y2="754.4" stroke="#a9a9a9" stroke-width="1.2" opacity="0.85"/>
<line x1="588.8" y1="649.7" x2="615.4" y2="639.7" stroke="#a9a9a9" stroke-width="1.2" opacity="0.85"/>
<line x1="633.8" y1="690.9" x2="639.3" y2="701.7" stroke="#a9a9a9" stroke-width="1.2" opacity="0.85"/>
<line x1="836.3" y1="745.2" x2="848.5" y2="761.3" stroke="#a9a9a9" stroke-width="1.2" opacity="0.85"/>
<text x="288.6" y="746.2" text-anchor="middle" class="dl">12750</text>
<text x="329.4" y="637.0" text-anchor="middle" class="dl">13143</text>
<text x="404.0" y="635.8" text-anchor="middle" class="dl">13150</text>
<text x="366.5" y="714.1" text-anchor="middle" class="dl">12943</text>
<text x="489.1" y="632.6" text-anchor="middle" class="dl">13164</text>
<text x="467.2" y="772.2" text-anchor="middle" class="dl">12553</text>
<text x="615.7" y="633.0" text-anchor="middle" class="dl">13203</text>
<text x="639.4" y="720.1" text-anchor="middle" class="dl">12900</text>
<text x="928.5" y="672.7" text-anchor="middle" class="dl">13079</text>
<text x="848.3" y="779.2" text-anchor="middle" class="dl">12500</text>
<text x="1084.8" y="838.5" text-anchor="middle" class="dl">11971</text>
<text x="1265.8" y="760.6" text-anchor="middle" class="dl">12431</text>
<text x="622.7 647.3 672.75 698.5 723 730.8 755.5 781.2 806.3 831.5 857.2 882.1 907.5" y="579" class="tt">不锈钢板 市场价变化曲线图</text>
<text x="1162.2 1180.6 1197.5 1216.3 1233.9 1239.6" y="586.6" class="un" style="font-size:17.5px">单位：元/吨</text>
<text x="760" y="981.8" text-anchor="middle" font-family="'DejaVu Sans','Liberation Sans',sans-serif" font-size="16" fill="#111">12</text>
</svg>
</body>
</html>
